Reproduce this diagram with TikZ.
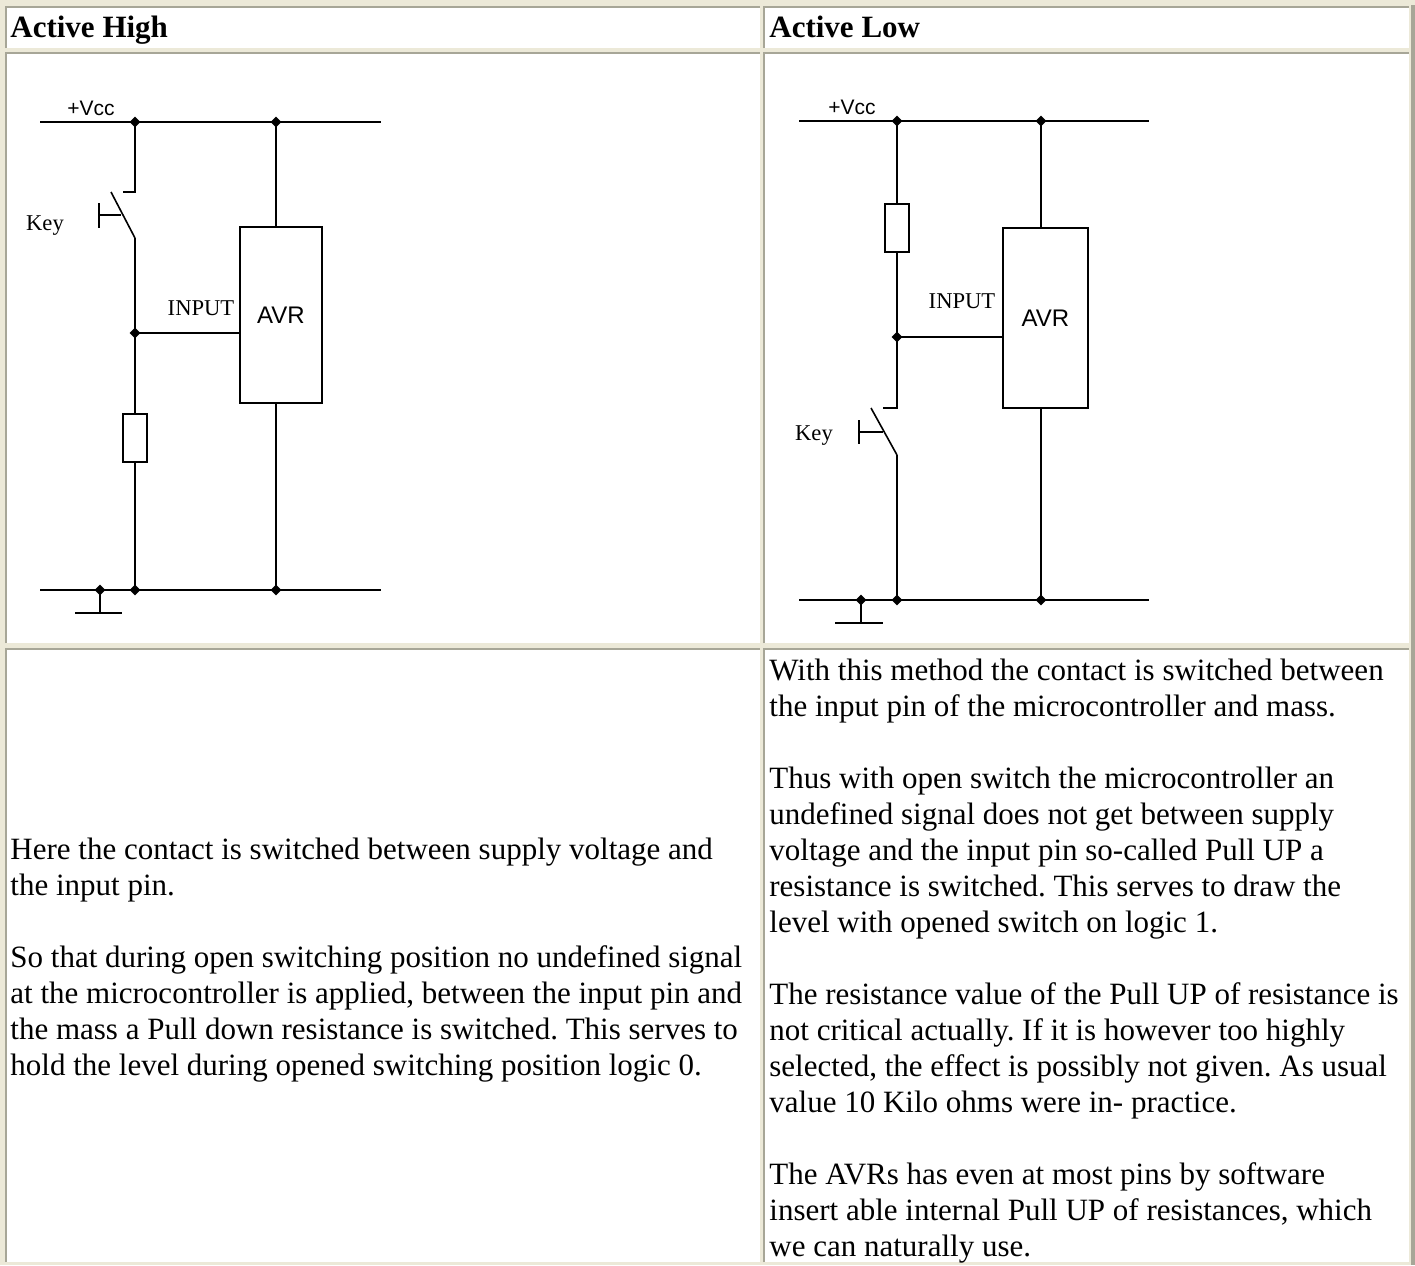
\documentclass[tikz,border=0pt]{standalone}
\usepackage{fontspec}
\setmainfont{Liberation Serif}
\newfontfamily\schemsans{Liberation Sans}
\usepackage[HTML]{xcolor}
\usepackage{tikz}
\usetikzlibrary{shapes.geometric}
\definecolor{pagebg}{HTML}{ECE9D8}
\definecolor{edgegray}{HTML}{A7A697}
\frenchspacing

\begin{document}
\begin{tikzpicture}[x=0.5pt, y=-0.5pt,
  wire/.style={line width=1pt},
  blade/.style={line width=0.8pt},
  dot/.style={diamond, fill, inner sep=0pt, minimum size=5.5pt},
  chip/.style={draw, line width=1pt, inner sep=0pt, font=\schemsans\fontsize{12}{12}\selectfont},
  res/.style={draw, line width=1pt, minimum width=12pt, minimum height=24pt, inner sep=0pt},
  lbl/.style={inner sep=0pt, font=\fontsize{11.3}{12}\selectfont},
  vlbl/.style={inner sep=0pt, font=\schemsans\fontsize{10.5}{12}\selectfont},
  head/.style={anchor=base west, inner sep=0pt, font=\bfseries\fontsize{15.5}{18}\selectfont},
  para/.style={anchor=base west, align=left, inner sep=0pt, font=\fontsize{15.5}{18}\selectfont},
  celledge/.style={edgegray, line width=1pt}]
\useasboundingbox (0,0) rectangle (1415,1265);
% table background and cells
\fill[pagebg] (0,0) rectangle (1415,1265);
\fill[edgegray] (1411,5) rectangle (1415,1265);
\fill[white] (5,6) rectangle (760,48);
\draw[celledge] (6,48) -- (6,7) -- (760,7);
\fill[white] (763,6) rectangle (1409,48);
\draw[celledge] (764,48) -- (764,7) -- (1409,7);
\fill[white] (5,52) rectangle (760,643);
\draw[celledge] (6,643) -- (6,53) -- (760,53);
\fill[white] (763,52) rectangle (1409,643);
\draw[celledge] (764,643) -- (764,53) -- (1409,53);
\fill[white] (5,648) rectangle (760,1262);
\draw[celledge] (6,1262) -- (6,649) -- (760,649);
\fill[white] (763,648) rectangle (1409,1262);
\draw[celledge] (764,1262) -- (764,649) -- (1409,649);
% headers
\node[head] (headHigh) at (10,37) {Active High};
\node[head] (headLow) at (769,37) {Active Low};

% ---- active high circuit
\coordinate (vccAH) at (40,122);
\coordinate (vccBH) at (381,122);
\coordinate (gndAH) at (40,590);
\coordinate (gndBH) at (381,590);
\draw[wire] (vccAH) -- (vccBH);
\draw[wire] (gndAH) -- (gndBH);
\node[vlbl] (vccH) at (91,108) {+Vcc};
\node[dot] (jtopH) at (135,122) {};
\node[dot] (jchipH) at (276,122) {};
\node[dot] (jinH) at (135,333) {};
\node[dot] (jgndH) at (100,590) {};
\node[dot] (jlowH) at (135,590) {};
\node[dot] (jbotH) at (276,590) {};
% chip
\node[chip, minimum width=41pt, minimum height=88pt] (avrH) at (281,315) {AVR};
\draw[wire] (jchipH.center) -- (jchipH |- avrH.north);
\draw[wire] (jchipH |- avrH.south) -- (jbotH.center);
\draw[wire] (jinH.center) -- (jinH -| avrH.west);
\node[lbl] (inH) at (201,308) {INPUT};
% key
\coordinate (swtopH) at (135,192);
\coordinate (swbotH) at (135,238);
\draw[wire] (jtopH.center) -- (swtopH) -- ++(-12,0);
\draw[blade] (111,192) -- (swbotH);
\draw[wire] (99,203) -- (99,228) (99,215) -- (121,215);
\node[lbl] (keyH) at (45,226) {Key};
% pull down
\node[res] (resH) at (135,438) {};
\draw[wire] (swbotH) -- (resH.north);
\draw[wire] (resH.south) -- (jlowH.center);
% earth
\coordinate (earthH) at (100,613);
\draw[wire] (jgndH.center) -- (earthH) (75,613) -- (122,613);

% ---- active low circuit
\coordinate (vccAL) at (799,121);
\coordinate (vccBL) at (1149,121);
\coordinate (gndAL) at (799,600);
\coordinate (gndBL) at (1149,600);
\draw[wire] (vccAL) -- (vccBL);
\draw[wire] (gndAL) -- (gndBL);
\node[vlbl] (vccL) at (852,107) {+Vcc};
\node[dot] (jtopL) at (897,121) {};
\node[dot] (jchipL) at (1041,121) {};
\node[dot] (jinL) at (897,337) {};
\node[dot] (jgndL) at (861,600) {};
\node[dot] (jlowL) at (897,600) {};
\node[dot] (jbotL) at (1041,600) {};
% chip
\node[chip, minimum width=42.5pt, minimum height=90pt] (avrL) at (1045.5,318) {AVR};
\draw[wire] (jchipL.center) -- (jchipL |- avrL.north);
\draw[wire] (jchipL |- avrL.south) -- (jbotL.center);
\draw[wire] (jinL.center) -- (jinL -| avrL.west);
\node[lbl] (inL) at (962,301) {INPUT};
% pull up
\node[res] (resL) at (897,228) {};
\draw[wire] (jtopL.center) -- (resL.north);
\draw[wire] (resL.south) -- (jinL.center);
% key
\coordinate (swtopL) at (897,408);
\coordinate (swbotL) at (897,455);
\draw[wire] (jinL.center) -- (swtopL) -- ++(-14,0);
\draw[blade] (871,408) -- (swbotL);
\draw[wire] (859,420) -- (859,444) (859,432) -- (883,432);
\node[lbl] (keyL) at (814,436) {Key};
\draw[wire] (swbotL) -- (jlowL.center);
% earth
\coordinate (earthL) at (861,623);
\draw[wire] (jgndL.center) -- (earthL) (835,623) -- (883,623);

% ---- text (placed at the baseline of the last line)
\node[para] (txtHighA) at (10,895) {Here the contact is switched between supply voltage and\\the input pin.};
\node[para] (txtHighB) at (10,1075) {So that during open switching position no undefined signal\\at the microcontroller is applied, between the input pin and\\the mass a Pull down resistance is switched. This serves to\\hold the level during opened switching position logic 0.};
\node[para] (txtLowA) at (769,716) {With this method the contact is switched between\\the input pin of the microcontroller and mass.};
\node[para] (txtLowB) at (769,932) {Thus with open switch the microcontroller an\\undefined signal does not get between supply\\voltage and the input pin so-called Pull UP a\\resistance is switched. This serves to draw the\\level with opened switch on logic 1.};
\node[para] (txtLowC) at (769,1112) {The resistance value of the Pull UP of resistance is\\not critical actually. If it is however too highly\\selected, the effect is possibly not given. As usual\\value 10 Kilo ohms were in- practice.};
\node[para] (txtLowD) at (769,1256) {The AVRs has even at most pins by software\\insert able internal Pull UP of resistances, which\\we can naturally use.};
\end{tikzpicture}
\end{document}
